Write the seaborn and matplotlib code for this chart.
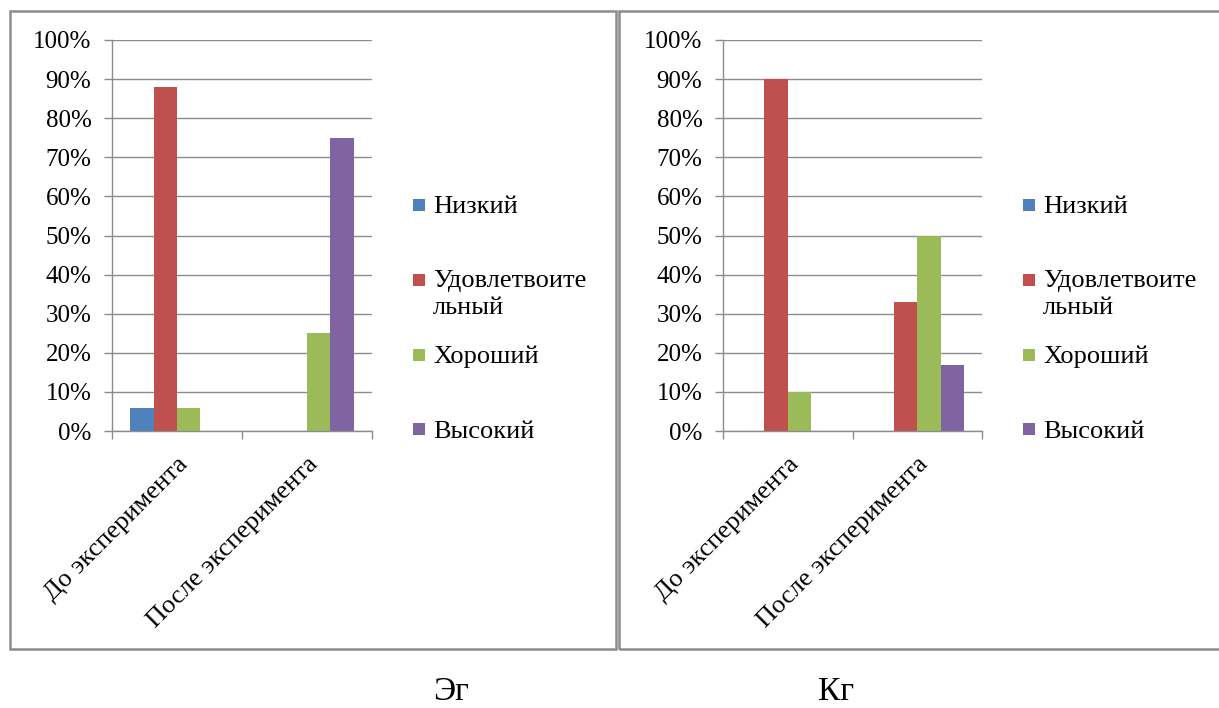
import numpy as np
import pandas as pd
import seaborn as sns
import matplotlib
matplotlib.use("Agg")
import matplotlib.pyplot as plt
from matplotlib.patches import Rectangle
from matplotlib.ticker import PercentFormatter, MultipleLocator

# ---- data -------------------------------------------------------------
periods = ["До эксперимента", "После эксперимента"]
levels = ["Низкий", "Удовлетвоите\nльный", "Хороший", "Высокий"]

# experimental group (Эг), percent per period
eg_low = [6, 0]
eg_sat = [88, 0]
eg_good = [6, 25]
eg_high = [0, 75]

# control group (Кг), percent per period
kg_low = [0, 0]
kg_sat = [90, 33]
kg_good = [10, 50]
kg_high = [0, 17]

panel_titles = ["Эг", "Кг"]
colors = ["#4F81BD", "#C0504D", "#9BBB59", "#8064A2"]

# ---- style ------------------------------------------------------------
sns.set_theme(style="white")
plt.rcParams["font.family"] = ["Liberation Serif", "DejaVu Serif"]
GRAY = "#8c8c8c"
FS_Y = 18
FS = 19

W, H = 1219, 708
fig = plt.figure(figsize=(W / 100, H / 100), dpi=100)


def fx(px):
    return px / W


def fy(py):
    return 1 - py / H


def long_frame(low, sat, good, high):
    return pd.DataFrame({
        "period": periods * 4,
        "level": np.repeat(levels, len(periods)),
        "share": low + sat + good + high,
    })


frames = [long_frame(eg_low, eg_sat, eg_good, eg_high),
          long_frame(kg_low, kg_sat, kg_good, kg_high)]

# axes placement (pixels): left edge, right edge
axes_x = [(112, 372), (723, 982)]
ax_top, ax_bottom = 40, 431

for i, df in enumerate(frames):
    x0, x1 = axes_x[i]
    ax = fig.add_axes([fx(x0), fy(ax_bottom), fx(x1 - x0), (ax_bottom - ax_top) / H])
    sns.barplot(data=df, x="period", y="share", hue="level", order=periods,
                hue_order=levels, palette=colors, width=0.72, linewidth=0,
                saturation=1, legend=False, ax=ax)
    ax.set_xlim(-0.5, 1.5)
    ax.set_ylim(0, 100)
    ax.set_xlabel("")
    ax.set_ylabel("")

    ax.yaxis.set_major_locator(MultipleLocator(10))
    ax.yaxis.set_major_formatter(PercentFormatter(decimals=0))
    ax.yaxis.grid(True, color=GRAY, linewidth=1.0)
    ax.set_axisbelow(True)
    ax.tick_params(axis="y", which="major", length=5.8, width=1.0, color=GRAY,
                   pad=9, labelsize=FS_Y, labelcolor="black", left=True)

    ax.set_xticks([0, 1])
    ax.set_xticklabels(periods, rotation=45, ha="right", va="top",
                       rotation_mode="anchor", fontsize=FS, color="black")
    ax.set_xticks([-0.5, 0.5, 1.5], minor=True)
    ax.tick_params(axis="x", which="major", length=0, pad=16)
    ax.tick_params(axis="x", which="minor", length=5.8, width=1.0, color=GRAY,
                   bottom=True)

    for side in ("top", "right"):
        ax.spines[side].set_visible(False)
    for side in ("left", "bottom"):
        ax.spines[side].set_color(GRAY)
        ax.spines[side].set_linewidth(1.0)

    # legend: square swatch beside the first line of each label
    mx = x1 + 41
    for j, (lab, col) in enumerate(zip(levels, colors)):
        cy = 204.5 + 75 * j
        fig.patches.append(Rectangle((fx(mx), fy(cy + 6)), fx(12), 12 / H,
                                     transform=fig.transFigure,
                                     facecolor=col, edgecolor="none"))
        for k, line in enumerate(lab.split("\n")):
            fig.text(fx(mx + 20), fy(cy + 8 + 26 * k), line, fontsize=FS,
                     ha="left", va="baseline", color="black")

# panel frames
frame_kw = dict(transform=fig.transFigure, fill=False, edgecolor=GRAY,
                linewidth=1.8, clip_on=False)
fig.patches.append(Rectangle((fx(10), fy(649)), fx(606), (649 - 11) / H, **frame_kw))
fig.patches.append(Rectangle((fx(619), fy(649)), fx(620), (649 - 11) / H, **frame_kw))

# group captions under the panels
for cx, title in zip([451, 836], panel_titles):
    fig.text(fx(cx), fy(700), title, fontsize=24, ha="center", va="baseline",
             color="black")

fig.savefig("out.png", dpi=100)
